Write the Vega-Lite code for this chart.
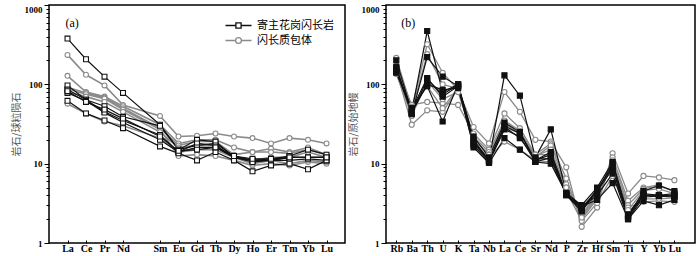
{
"$schema": "https://vega.github.io/schema/vega-lite/v6.json",
"background": "white",
"padding": {"left": 10, "top": 3, "right": 0, "bottom": 0},
"spacing": 1,
"config": {
  "view": {"stroke": "#000", "strokeWidth": 1.5},
  "axis": {"domain": false, "grid": false, "tickColor": "#000", "tickWidth": 1, "labelColor": "#000", "labelFont": "Liberation Serif", "labelFontWeight": "bold", "labelFontSize": 10, "titleFont": "Noto Sans CJK SC", "titleFontWeight": "normal", "titleFontSize": 10, "titleColor": "#555"}
},
"datasets": {
  "samples": [
    {"sample": "H1", "group": "寄主花岗闪长岩"}, {"sample": "H2", "group": "寄主花岗闪长岩"}, {"sample": "H3", "group": "寄主花岗闪长岩"},
    {"sample": "H4", "group": "寄主花岗闪长岩"}, {"sample": "H5", "group": "寄主花岗闪长岩"}, {"sample": "H6", "group": "寄主花岗闪长岩"},
    {"sample": "E1", "group": "闪长质包体"}, {"sample": "E2", "group": "闪长质包体"}, {"sample": "E3", "group": "闪长质包体"},
    {"sample": "E4", "group": "闪长质包体"}, {"sample": "E5", "group": "闪长质包体"}, {"sample": "E6", "group": "闪长质包体"}
  ],
  "ree": [
    {"sample":"E1","element":"La","value":235},{"sample":"E1","element":"Ce","value":132},{"sample":"E1","element":"Pr","value":97},{"sample":"E1","element":"Nd","value":55},{"sample":"E1","element":"Sm","value":40},{"sample":"E1","element":"Eu","value":22},{"sample":"E1","element":"Gd","value":22.5},{"sample":"E1","element":"Tb","value":24},{"sample":"E1","element":"Dy","value":22},{"sample":"E1","element":"Ho","value":21},{"sample":"E1","element":"Er","value":18},{"sample":"E1","element":"Tm","value":21},{"sample":"E1","element":"Yb","value":20},{"sample":"E1","element":"Lu","value":18},
    {"sample":"E2","element":"La","value":128},{"sample":"E2","element":"Ce","value":80},{"sample":"E2","element":"Pr","value":70},{"sample":"E2","element":"Nd","value":53},{"sample":"E2","element":"Sm","value":31},{"sample":"E2","element":"Eu","value":18},{"sample":"E2","element":"Gd","value":20},{"sample":"E2","element":"Tb","value":20},{"sample":"E2","element":"Dy","value":16},{"sample":"E2","element":"Ho","value":14},{"sample":"E2","element":"Er","value":15.5},{"sample":"E2","element":"Tm","value":14},{"sample":"E2","element":"Yb","value":16},{"sample":"E2","element":"Lu","value":13},
    {"sample":"E3","element":"La","value":92},{"sample":"E3","element":"Ce","value":78},{"sample":"E3","element":"Pr","value":68},{"sample":"E3","element":"Nd","value":50},{"sample":"E3","element":"Sm","value":28},{"sample":"E3","element":"Eu","value":17},{"sample":"E3","element":"Gd","value":19},{"sample":"E3","element":"Tb","value":19},{"sample":"E3","element":"Dy","value":13},{"sample":"E3","element":"Ho","value":14},{"sample":"E3","element":"Er","value":14},{"sample":"E3","element":"Tm","value":13.5},{"sample":"E3","element":"Yb","value":15},{"sample":"E3","element":"Lu","value":13},
    {"sample":"E4","element":"La","value":88},{"sample":"E4","element":"Ce","value":75},{"sample":"E4","element":"Pr","value":66},{"sample":"E4","element":"Nd","value":48},{"sample":"E4","element":"Sm","value":27},{"sample":"E4","element":"Eu","value":12.5},{"sample":"E4","element":"Gd","value":13},{"sample":"E4","element":"Tb","value":12.5},{"sample":"E4","element":"Dy","value":11},{"sample":"E4","element":"Ho","value":9.5},{"sample":"E4","element":"Er","value":10},{"sample":"E4","element":"Tm","value":9.5},{"sample":"E4","element":"Yb","value":10.5},{"sample":"E4","element":"Lu","value":10},
    {"sample":"E5","element":"La","value":57},{"sample":"E5","element":"Ce","value":43},{"sample":"E5","element":"Pr","value":34},{"sample":"E5","element":"Nd","value":30},{"sample":"E5","element":"Sm","value":21},{"sample":"E5","element":"Eu","value":14},{"sample":"E5","element":"Gd","value":15},{"sample":"E5","element":"Tb","value":15},{"sample":"E5","element":"Dy","value":12},{"sample":"E5","element":"Ho","value":10},{"sample":"E5","element":"Er","value":11},{"sample":"E5","element":"Tm","value":10},{"sample":"E5","element":"Yb","value":11},{"sample":"E5","element":"Lu","value":10.5},
    {"sample":"E6","element":"La","value":80},{"sample":"E6","element":"Ce","value":70},{"sample":"E6","element":"Pr","value":60},{"sample":"E6","element":"Nd","value":45},{"sample":"E6","element":"Sm","value":25},{"sample":"E6","element":"Eu","value":16},{"sample":"E6","element":"Gd","value":17},{"sample":"E6","element":"Tb","value":17},{"sample":"E6","element":"Dy","value":12},{"sample":"E6","element":"Ho","value":11},{"sample":"E6","element":"Er","value":12},{"sample":"E6","element":"Tm","value":12},{"sample":"E6","element":"Yb","value":14},{"sample":"E6","element":"Lu","value":12},
    {"sample":"H1","element":"La","value":377},{"sample":"H1","element":"Ce","value":207},{"sample":"H1","element":"Pr","value":125},{"sample":"H1","element":"Nd","value":78},{"sample":"H1","element":"Sm","value":31},{"sample":"H1","element":"Eu","value":15},{"sample":"H1","element":"Gd","value":17},{"sample":"H1","element":"Tb","value":18},{"sample":"H1","element":"Dy","value":12.5},{"sample":"H1","element":"Ho","value":11},{"sample":"H1","element":"Er","value":11},{"sample":"H1","element":"Tm","value":12},{"sample":"H1","element":"Yb","value":12},{"sample":"H1","element":"Lu","value":12},
    {"sample":"H2","element":"La","value":97},{"sample":"H2","element":"Ce","value":64},{"sample":"H2","element":"Pr","value":53},{"sample":"H2","element":"Nd","value":39},{"sample":"H2","element":"Sm","value":30},{"sample":"H2","element":"Eu","value":15},{"sample":"H2","element":"Gd","value":20},{"sample":"H2","element":"Tb","value":19},{"sample":"H2","element":"Dy","value":12},{"sample":"H2","element":"Ho","value":11},{"sample":"H2","element":"Er","value":11.5},{"sample":"H2","element":"Tm","value":12.5},{"sample":"H2","element":"Yb","value":15},{"sample":"H2","element":"Lu","value":13},
    {"sample":"H3","element":"La","value":86},{"sample":"H3","element":"Ce","value":64},{"sample":"H3","element":"Pr","value":45},{"sample":"H3","element":"Nd","value":35},{"sample":"H3","element":"Sm","value":23},{"sample":"H3","element":"Eu","value":14},{"sample":"H3","element":"Gd","value":18},{"sample":"H3","element":"Tb","value":17},{"sample":"H3","element":"Dy","value":12},{"sample":"H3","element":"Ho","value":11},{"sample":"H3","element":"Er","value":11},{"sample":"H3","element":"Tm","value":12},{"sample":"H3","element":"Yb","value":12},{"sample":"H3","element":"Lu","value":12},
    {"sample":"H4","element":"La","value":78},{"sample":"H4","element":"Ce","value":62},{"sample":"H4","element":"Pr","value":44},{"sample":"H4","element":"Nd","value":33},{"sample":"H4","element":"Sm","value":20},{"sample":"H4","element":"Eu","value":14},{"sample":"H4","element":"Gd","value":16},{"sample":"H4","element":"Tb","value":16},{"sample":"H4","element":"Dy","value":12},{"sample":"H4","element":"Ho","value":10.5},{"sample":"H4","element":"Er","value":11},{"sample":"H4","element":"Tm","value":11},{"sample":"H4","element":"Yb","value":11.5},{"sample":"H4","element":"Lu","value":11},
    {"sample":"H5","element":"La","value":62},{"sample":"H5","element":"Ce","value":43},{"sample":"H5","element":"Pr","value":35},{"sample":"H5","element":"Nd","value":28},{"sample":"H5","element":"Sm","value":16.5},{"sample":"H5","element":"Eu","value":13.5},{"sample":"H5","element":"Gd","value":11},{"sample":"H5","element":"Tb","value":14},{"sample":"H5","element":"Dy","value":11},{"sample":"H5","element":"Ho","value":8},{"sample":"H5","element":"Er","value":9.5},{"sample":"H5","element":"Tm","value":10},{"sample":"H5","element":"Yb","value":8.5},{"sample":"H5","element":"Lu","value":11},
    {"sample":"H6","element":"La","value":82},{"sample":"H6","element":"Ce","value":60},{"sample":"H6","element":"Pr","value":48},{"sample":"H6","element":"Nd","value":37},{"sample":"H6","element":"Sm","value":22},{"sample":"H6","element":"Eu","value":14.5},{"sample":"H6","element":"Gd","value":15},{"sample":"H6","element":"Tb","value":16},{"sample":"H6","element":"Dy","value":12.5},{"sample":"H6","element":"Ho","value":11.5},{"sample":"H6","element":"Er","value":11.5},{"sample":"H6","element":"Tm","value":12},{"sample":"H6","element":"Yb","value":12},{"sample":"H6","element":"Lu","value":12}
  ],
  "spider": [
    {"sample":"E1","element":"Rb","value":215},{"sample":"E1","element":"Ba","value":50},{"sample":"E1","element":"Th","value":320},{"sample":"E1","element":"U","value":140},{"sample":"E1","element":"K","value":85},{"sample":"E1","element":"Ta","value":29},{"sample":"E1","element":"Nb","value":18},{"sample":"E1","element":"La","value":80},{"sample":"E1","element":"Ce","value":45},{"sample":"E1","element":"Sr","value":20},{"sample":"E1","element":"Nd","value":19},{"sample":"E1","element":"P","value":9},{"sample":"E1","element":"Zr","value":1.6},{"sample":"E1","element":"Hf","value":2.8},{"sample":"E1","element":"Sm","value":13.5},{"sample":"E1","element":"Ti","value":4.2},{"sample":"E1","element":"Y","value":7},{"sample":"E1","element":"Yb","value":6.7},{"sample":"E1","element":"Lu","value":6.2},
    {"sample":"E2","element":"Rb","value":170},{"sample":"E2","element":"Ba","value":55},{"sample":"E2","element":"Th","value":60},{"sample":"E2","element":"U","value":58},{"sample":"E2","element":"K","value":55},{"sample":"E2","element":"Ta","value":24},{"sample":"E2","element":"Nb","value":15},{"sample":"E2","element":"La","value":43},{"sample":"E2","element":"Ce","value":28},{"sample":"E2","element":"Sr","value":13},{"sample":"E2","element":"Nd","value":18},{"sample":"E2","element":"P","value":6.5},{"sample":"E2","element":"Zr","value":2},{"sample":"E2","element":"Hf","value":3.6},{"sample":"E2","element":"Sm","value":12},{"sample":"E2","element":"Ti","value":3.4},{"sample":"E2","element":"Y","value":5},{"sample":"E2","element":"Yb","value":5.4},{"sample":"E2","element":"Lu","value":4.4},
    {"sample":"E3","element":"Rb","value":150},{"sample":"E3","element":"Ba","value":31},{"sample":"E3","element":"Th","value":47},{"sample":"E3","element":"U","value":45},{"sample":"E3","element":"K","value":88},{"sample":"E3","element":"Ta","value":22},{"sample":"E3","element":"Nb","value":14},{"sample":"E3","element":"La","value":35},{"sample":"E3","element":"Ce","value":26},{"sample":"E3","element":"Sr","value":12},{"sample":"E3","element":"Nd","value":17},{"sample":"E3","element":"P","value":5.5},{"sample":"E3","element":"Zr","value":2.2},{"sample":"E3","element":"Hf","value":4},{"sample":"E3","element":"Sm","value":11},{"sample":"E3","element":"Ti","value":3},{"sample":"E3","element":"Y","value":4.8},{"sample":"E3","element":"Yb","value":5.2},{"sample":"E3","element":"Lu","value":4.5},
    {"sample":"E4","element":"Rb","value":135},{"sample":"E4","element":"Ba","value":40},{"sample":"E4","element":"Th","value":110},{"sample":"E4","element":"U","value":65},{"sample":"E4","element":"K","value":80},{"sample":"E4","element":"Ta","value":20},{"sample":"E4","element":"Nb","value":13},{"sample":"E4","element":"La","value":32},{"sample":"E4","element":"Ce","value":24},{"sample":"E4","element":"Sr","value":12.5},{"sample":"E4","element":"Nd","value":15},{"sample":"E4","element":"P","value":5},{"sample":"E4","element":"Zr","value":2.3},{"sample":"E4","element":"Hf","value":4.2},{"sample":"E4","element":"Sm","value":9.5},{"sample":"E4","element":"Ti","value":2.8},{"sample":"E4","element":"Y","value":3.3},{"sample":"E4","element":"Yb","value":3.4},{"sample":"E4","element":"Lu","value":3.3},
    {"sample":"E5","element":"Rb","value":140},{"sample":"E5","element":"Ba","value":52},{"sample":"E5","element":"Th","value":95},{"sample":"E5","element":"U","value":50},{"sample":"E5","element":"K","value":90},{"sample":"E5","element":"Ta","value":18},{"sample":"E5","element":"Nb","value":12},{"sample":"E5","element":"La","value":19},{"sample":"E5","element":"Ce","value":15},{"sample":"E5","element":"Sr","value":11},{"sample":"E5","element":"Nd","value":10.5},{"sample":"E5","element":"P","value":4.5},{"sample":"E5","element":"Zr","value":1.9},{"sample":"E5","element":"Hf","value":3.2},{"sample":"E5","element":"Sm","value":7},{"sample":"E5","element":"Ti","value":2.5},{"sample":"E5","element":"Y","value":3.6},{"sample":"E5","element":"Yb","value":3.6},{"sample":"E5","element":"Lu","value":3.7},
    {"sample":"E6","element":"Rb","value":155},{"sample":"E6","element":"Ba","value":47},{"sample":"E6","element":"Th","value":240},{"sample":"E6","element":"U","value":100},{"sample":"E6","element":"K","value":88},{"sample":"E6","element":"Ta","value":21},{"sample":"E6","element":"Nb","value":13},{"sample":"E6","element":"La","value":29},{"sample":"E6","element":"Ce","value":24},{"sample":"E6","element":"Sr","value":13},{"sample":"E6","element":"Nd","value":13},{"sample":"E6","element":"P","value":5},{"sample":"E6","element":"Zr","value":2.1},{"sample":"E6","element":"Hf","value":3.8},{"sample":"E6","element":"Sm","value":10},{"sample":"E6","element":"Ti","value":2.6},{"sample":"E6","element":"Y","value":4.6},{"sample":"E6","element":"Yb","value":4.8},{"sample":"E6","element":"Lu","value":4.2},
    {"sample":"H1","element":"Rb","value":200},{"sample":"H1","element":"Ba","value":45},{"sample":"H1","element":"Th","value":470},{"sample":"H1","element":"U","value":80},{"sample":"H1","element":"K","value":100},{"sample":"H1","element":"Ta","value":20},{"sample":"H1","element":"Nb","value":11},{"sample":"H1","element":"La","value":130},{"sample":"H1","element":"Ce","value":72},{"sample":"H1","element":"Sr","value":12},{"sample":"H1","element":"Nd","value":27},{"sample":"H1","element":"P","value":4.3},{"sample":"H1","element":"Zr","value":2.8},{"sample":"H1","element":"Hf","value":4.5},{"sample":"H1","element":"Sm","value":10},{"sample":"H1","element":"Ti","value":2.3},{"sample":"H1","element":"Y","value":4.2},{"sample":"H1","element":"Yb","value":4},{"sample":"H1","element":"Lu","value":4.2},
    {"sample":"H2","element":"Rb","value":165},{"sample":"H2","element":"Ba","value":42},{"sample":"H2","element":"Th","value":220},{"sample":"H2","element":"U","value":125},{"sample":"H2","element":"K","value":95},{"sample":"H2","element":"Ta","value":22},{"sample":"H2","element":"Nb","value":12},{"sample":"H2","element":"La","value":33},{"sample":"H2","element":"Ce","value":25},{"sample":"H2","element":"Sr","value":11},{"sample":"H2","element":"Nd","value":14},{"sample":"H2","element":"P","value":4.2},{"sample":"H2","element":"Zr","value":3},{"sample":"H2","element":"Hf","value":5},{"sample":"H2","element":"Sm","value":10.5},{"sample":"H2","element":"Ti","value":2.2},{"sample":"H2","element":"Y","value":4.5},{"sample":"H2","element":"Yb","value":5.3},{"sample":"H2","element":"Lu","value":4.5},
    {"sample":"H3","element":"Rb","value":150},{"sample":"H3","element":"Ba","value":48},{"sample":"H3","element":"Th","value":120},{"sample":"H3","element":"U","value":70},{"sample":"H3","element":"K","value":95},{"sample":"H3","element":"Ta","value":18},{"sample":"H3","element":"Nb","value":11},{"sample":"H3","element":"La","value":30},{"sample":"H3","element":"Ce","value":24},{"sample":"H3","element":"Sr","value":11},{"sample":"H3","element":"Nd","value":13},{"sample":"H3","element":"P","value":4},{"sample":"H3","element":"Zr","value":2.5},{"sample":"H3","element":"Hf","value":4.5},{"sample":"H3","element":"Sm","value":8.5},{"sample":"H3","element":"Ti","value":2.1},{"sample":"H3","element":"Y","value":4},{"sample":"H3","element":"Yb","value":4},{"sample":"H3","element":"Lu","value":4},
    {"sample":"H4","element":"Rb","value":145},{"sample":"H4","element":"Ba","value":44},{"sample":"H4","element":"Th","value":100},{"sample":"H4","element":"U","value":85},{"sample":"H4","element":"K","value":90},{"sample":"H4","element":"Ta","value":17},{"sample":"H4","element":"Nb","value":10.5},{"sample":"H4","element":"La","value":27},{"sample":"H4","element":"Ce","value":22},{"sample":"H4","element":"Sr","value":10.5},{"sample":"H4","element":"Nd","value":12},{"sample":"H4","element":"P","value":4},{"sample":"H4","element":"Zr","value":2.8},{"sample":"H4","element":"Hf","value":4},{"sample":"H4","element":"Sm","value":7.5},{"sample":"H4","element":"Ti","value":2},{"sample":"H4","element":"Y","value":3.8},{"sample":"H4","element":"Yb","value":3.9},{"sample":"H4","element":"Lu","value":3.8},
    {"sample":"H5","element":"Rb","value":140},{"sample":"H5","element":"Ba","value":50},{"sample":"H5","element":"Th","value":95},{"sample":"H5","element":"U","value":34},{"sample":"H5","element":"K","value":100},{"sample":"H5","element":"Ta","value":16},{"sample":"H5","element":"Nb","value":10.2},{"sample":"H5","element":"La","value":21},{"sample":"H5","element":"Ce","value":15},{"sample":"H5","element":"Sr","value":10.5},{"sample":"H5","element":"Nd","value":10},{"sample":"H5","element":"P","value":4.2},{"sample":"H5","element":"Zr","value":2.9},{"sample":"H5","element":"Hf","value":3.5},{"sample":"H5","element":"Sm","value":5.7},{"sample":"H5","element":"Ti","value":2},{"sample":"H5","element":"Y","value":3.4},{"sample":"H5","element":"Yb","value":3},{"sample":"H5","element":"Lu","value":3.5},
    {"sample":"H6","element":"Rb","value":160},{"sample":"H6","element":"Ba","value":43},{"sample":"H6","element":"Th","value":115},{"sample":"H6","element":"U","value":75},{"sample":"H6","element":"K","value":98},{"sample":"H6","element":"Ta","value":19},{"sample":"H6","element":"Nb","value":11},{"sample":"H6","element":"La","value":29},{"sample":"H6","element":"Ce","value":21},{"sample":"H6","element":"Sr","value":11.5},{"sample":"H6","element":"Nd","value":11.5},{"sample":"H6","element":"P","value":4.1},{"sample":"H6","element":"Zr","value":2.6},{"sample":"H6","element":"Hf","value":4.8},{"sample":"H6","element":"Sm","value":9},{"sample":"H6","element":"Ti","value":2.2},{"sample":"H6","element":"Y","value":4},{"sample":"H6","element":"Yb","value":4},{"sample":"H6","element":"Lu","value":3.9}
  ]
},
"resolve": {"scale": {"x": "independent", "y": "independent", "color": "independent", "stroke": "independent", "shape": "independent", "fill": "independent", "strokeWidth": "independent"}, "legend": {"shape": "independent", "color": "independent"}},
"hconcat": [
  {
    "width": 296, "height": 238,
    "resolve": {"scale": {"shape": "independent", "stroke": "independent"}, "legend": {"shape": "independent", "stroke": "independent"}},
    "layer": [
      {
        "data": {"name": "ree"},
        "transform": [{"lookup": "sample", "from": {"data": {"name": "samples"}, "key": "sample", "fields": ["group"]}}],
        "mark": {"type": "line"},
        "encoding": {
          "x": {"field": "element", "type": "ordinal", "scale": {"type": "point", "domain": ["La","Ce","Pr","Nd","Pm","Sm","Eu","Gd","Tb","Dy","Ho","Er","Tm","Yb","Lu"], "padding": 1}, "axis": {"title": null, "values": ["La","Ce","Pr","Nd","Sm","Eu","Gd","Tb","Dy","Ho","Er","Tm","Yb","Lu"], "labelAngle": 0, "tickSize": -3, "labelPadding": 3}},
          "y": {"field": "value", "type": "quantitative", "scale": {"type": "log", "domain": [1, 1000], "nice": false}, "axis": {"title": "岩石/球粒陨石", "titlePadding": 3, "labelFontSize": 9, "values": [1,2,3,4,5,6,7,8,9,10,20,30,40,50,60,70,80,90,100,200,300,400,500,600,700,800,900,1000], "labelExpr": "(datum.value == 1 || datum.value == 10 || datum.value == 100 || datum.value == 1000) ? format(datum.value, 'd') : ''", "labelOverlap": false, "labelBaseline": {"condition": {"test": "datum.value == 1000", "value": "top"}, "value": "middle"}, "tickSize": {"condition": {"test": "datum.value == 1 || datum.value == 10 || datum.value == 100 || datum.value == 1000", "value": 5}, "value": 3}}},
          "detail": {"field": "sample"},
          "color": {"field": "group", "type": "nominal", "scale": {"domain": ["寄主花岗闪长岩", "闪长质包体"], "range": ["#111111", "#8a8a8a"]}, "legend": null},
          "strokeWidth": {"field": "group", "type": "nominal", "scale": {"domain": ["寄主花岗闪长岩", "闪长质包体"], "range": [1.2, 1.6]}, "legend": null}
        }
      },
      {
        "data": {"name": "ree"},
        "transform": [{"lookup": "sample", "from": {"data": {"name": "samples"}, "key": "sample", "fields": ["group"]}}],
        "mark": {"type": "point", "filled": true, "size": 24, "strokeWidth": 1.1, "fill": "white", "opacity": 1},
        "encoding": {
          "x": {"field": "element", "type": "ordinal"},
          "y": {"field": "value", "type": "quantitative"},
          "shape": {"field": "group", "type": "nominal", "scale": {"domain": ["寄主花岗闪长岩", "闪长质包体"], "range": ["square", "circle"]}, "legend": null},
          "stroke": {"field": "group", "type": "nominal", "scale": {"domain": ["寄主花岗闪长岩", "闪长质包体"], "range": ["#111111", "#8a8a8a"]}, "legend": null}
        }
      },
      {
        "data": {"values": []},
        "mark": {"type": "point", "filled": false, "strokeWidth": 1.3, "opacity": 1},
        "encoding": {
          "shape": {"field": "group", "type": "nominal", "scale": {"domain": ["寄主花岗闪长岩", "闪长质包体"], "range": ["M-2,0H-0.4M0.4,0H2M-0.4,-0.4H0.4V0.4H-0.4Z", "M-2,0H-0.45M0.45,0H2M0.45,0A0.45,0.45 0 1,1 -0.45,0A0.45,0.45 0 1,1 0.45,0"]},
            "legend": {"title": null, "orient": "none", "legendX": 182, "legendY": 13, "symbolSize": 169, "labelOffset": 11, "labelFont": "Noto Sans CJK SC", "labelFontSize": 11, "labelColor": "#000", "rowPadding": 2, "symbolStrokeWidth": 1.3, "symbolFillColor": "white"}},
          "stroke": {"field": "group", "type": "nominal", "scale": {"domain": ["寄主花岗闪长岩", "闪长质包体"], "range": ["#111111", "#8a8a8a"]}, "legend": null}
        }
      },
      {
        "data": {"values": [{"label": "(a)"}]},
        "mark": {"type": "text", "font": "Liberation Serif", "fontSize": 12, "align": "left", "baseline": "middle", "dx": -2, "color": "#000"},
        "encoding": {"x": {"datum": "La", "type": "ordinal"}, "y": {"datum": 600, "type": "quantitative"}, "text": {"field": "label"}}
      }
    ]
  },
  {
    "width": 309, "height": 238,
    "layer": [
      {
        "data": {"name": "spider"},
        "transform": [{"lookup": "sample", "from": {"data": {"name": "samples"}, "key": "sample", "fields": ["group"]}}],
        "mark": {"type": "line"},
        "encoding": {
          "x": {"field": "element", "type": "ordinal", "scale": {"type": "point", "domain": ["Rb","Ba","Th","U","K","Ta","Nb","La","Ce","Sr","Nd","P","Zr","Hf","Sm","Ti","Y","Yb","Lu"], "padding": 1.5, "align": 0.3333}, "axis": {"title": null, "labelAngle": 0, "tickSize": -3, "labelPadding": 3}},
          "y": {"field": "value", "type": "quantitative", "scale": {"type": "log", "domain": [1, 1000], "nice": false}, "axis": {"title": "岩石/原始地幔", "titlePadding": 3, "labelFontSize": 9, "values": [1,2,3,4,5,6,7,8,9,10,20,30,40,50,60,70,80,90,100,200,300,400,500,600,700,800,900,1000], "labelExpr": "(datum.value == 1 || datum.value == 10 || datum.value == 100 || datum.value == 1000) ? format(datum.value, 'd') : ''", "labelOverlap": false, "labelBaseline": {"condition": {"test": "datum.value == 1000", "value": "top"}, "value": "middle"}, "tickSize": {"condition": {"test": "datum.value == 1 || datum.value == 10 || datum.value == 100 || datum.value == 1000", "value": 5}, "value": 3}}},
          "detail": {"field": "sample"},
          "color": {"field": "group", "type": "nominal", "scale": {"domain": ["寄主花岗闪长岩", "闪长质包体"], "range": ["#111111", "#8a8a8a"]}, "legend": null},
          "strokeWidth": {"field": "group", "type": "nominal", "scale": {"domain": ["寄主花岗闪长岩", "闪长质包体"], "range": [1.2, 1.3]}, "legend": null}
        }
      },
      {
        "data": {"name": "spider"},
        "transform": [{"lookup": "sample", "from": {"data": {"name": "samples"}, "key": "sample", "fields": ["group"]}}],
        "mark": {"type": "point", "filled": true, "size": 26, "strokeWidth": 1.1, "opacity": 1},
        "encoding": {
          "x": {"field": "element", "type": "ordinal"},
          "y": {"field": "value", "type": "quantitative"},
          "shape": {"field": "group", "type": "nominal", "scale": {"domain": ["寄主花岗闪长岩", "闪长质包体"], "range": ["square", "circle"]}, "legend": null},
          "stroke": {"field": "group", "type": "nominal", "scale": {"domain": ["寄主花岗闪长岩", "闪长质包体"], "range": ["#111111", "#8a8a8a"]}, "legend": null},
          "fill": {"field": "group", "type": "nominal", "scale": {"domain": ["寄主花岗闪长岩", "闪长质包体"], "range": ["#111111", "#ffffff"]}, "legend": null}
        }
      },
      {
        "data": {"values": [{"label": "(b)"}]},
        "mark": {"type": "text", "font": "Liberation Serif", "fontSize": 12, "align": "left", "baseline": "middle", "dx": 5, "color": "#000"},
        "encoding": {"x": {"datum": "Rb", "type": "ordinal"}, "y": {"datum": 600, "type": "quantitative"}, "text": {"field": "label"}}
      }
    ]
  }
]
}
